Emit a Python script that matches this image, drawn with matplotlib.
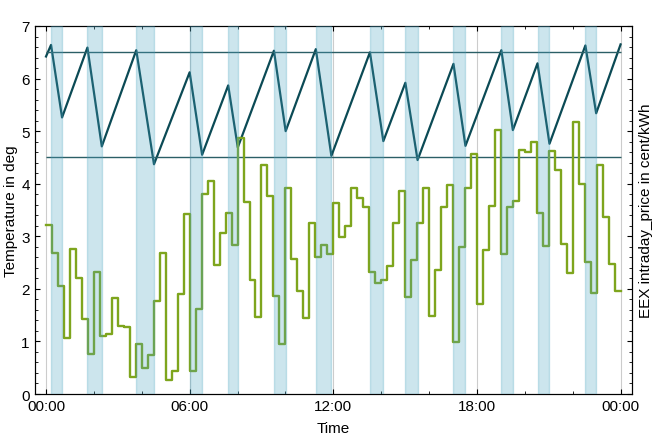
import numpy as np
import matplotlib
matplotlib.use("Agg")
import matplotlib.pyplot as plt
from matplotlib.ticker import MultipleLocator, FuncFormatter

plt.rcParams['font.family'] = ['Liberation Sans', 'DejaVu Sans']
plt.rcParams['font.size'] = 11

# temperature sawtooth corners (hour, deg)
temp_t = [0, 0.21, 0.67, 1.73, 2.33, 3.77, 4.51, 6.0, 6.52, 7.61, 8.01, 9.52, 10.01,
          11.27, 11.92, 13.53, 14.09, 15.01, 15.52, 17.02, 17.52, 19.02, 19.5,
          20.53, 21.03, 22.53, 22.98, 24.0]
temp_v = [6.42, 6.64, 5.26, 6.59, 4.71, 6.54, 4.37, 6.12, 4.55, 5.87, 4.69, 6.53, 5.0,
          6.56, 4.53, 6.50, 4.81, 5.92, 4.45, 6.28, 4.72, 6.54, 5.02,
          6.29, 4.76, 6.63, 5.34, 6.65]

temp_upper = 6.5
temp_lower = 4.5

# cooling periods (start hour, end hour)
on_start = [0.21, 1.73, 3.77, 6.0, 7.61, 9.52, 11.27, 13.53, 15.01, 17.02, 19.02, 20.53, 22.53]
on_end = [0.67, 2.33, 4.51, 6.52, 8.01, 10.01, 11.92, 14.09, 15.52, 17.52, 19.5, 21.03, 22.98]

# quarter-hourly EEX intraday price
price = [3.22, 2.69, 2.06, 1.07, 2.75, 2.21, 1.43, 0.76, 2.32, 1.10, 1.14, 1.83,
         1.30, 1.27, 0.33, 0.95, 0.49, 0.74, 1.76, 2.69, 0.27, 0.44, 1.90, 3.42,
         0.44, 1.62, 3.80, 4.06, 2.46, 3.06, 3.44, 2.83, 4.87, 3.65, 2.17, 1.46,
         4.36, 3.77, 1.87, 0.96, 3.91, 2.56, 1.95, 1.44, 3.25, 2.60, 2.83, 2.66,
         3.64, 2.99, 3.19, 3.91, 3.72, 3.55, 2.33, 2.11, 2.17, 2.43, 3.26, 3.86,
         1.84, 2.54, 3.25, 3.91, 1.49, 2.36, 3.55, 3.98, 0.98, 2.80, 3.92, 4.57,
         1.72, 2.73, 3.58, 5.03, 2.66, 3.55, 3.68, 4.65, 4.60, 4.79, 3.44, 2.82,
         4.63, 4.27, 2.85, 2.31, 5.18, 3.99, 2.52, 1.92, 4.35, 3.37, 2.47, 1.95]

teal = "#0b4a55"
green = "#7ea51d"

fig = plt.figure(figsize=(6.55, 4.39), dpi=100)
ax = fig.add_axes([0.0527, 0.1002, 0.9123, 0.8383])

ax.grid(axis='x', which='major', color='#cccccc', lw=0.8)
ax.plot(temp_t, temp_v, color=teal, lw=1.6, zorder=3)
ax.hlines([temp_upper, temp_lower], 0, 24, color='#2b5f66', lw=1.0, zorder=3)

ax.set_xlim(-0.48, 24.48)
ax.set_ylim(0, 7)
ax.xaxis.set_major_locator(MultipleLocator(6))
ax.xaxis.set_minor_locator(MultipleLocator(2))
ax.xaxis.set_major_formatter(FuncFormatter(lambda h, pos: f"{int(round(h)) % 24:02d}:00"))
ax.yaxis.set_major_locator(MultipleLocator(1))
ax.yaxis.set_minor_locator(MultipleLocator(0.2))
ax.tick_params(which='both', direction='in', top=True, right=False)
ax.tick_params(which='major', length=3.5, width=0.8)
ax.tick_params(which='minor', length=2, width=0.6)
ax.set_xlabel("Time", labelpad=6)
ax.set_ylabel("Temperature in deg", labelpad=2)

ax2 = ax.twinx()
qt = np.arange(len(price) + 1) * 0.25
ax2.plot(qt, price + [price[-1]], drawstyle='steps-post', color=green, lw=1.7, zorder=2)
for s, e in zip(on_start, on_end):
    ax2.axvspan(s, e, facecolor='#4aa3c0', edgecolor='#4aa3c0', alpha=0.28, lw=1.0, zorder=4)
ax2.set_ylim(0, 7)
ax2.yaxis.set_major_locator(MultipleLocator(1))
ax2.yaxis.set_minor_locator(MultipleLocator(0.2))
ax2.tick_params(which='both', direction='in', labelright=False)
ax2.tick_params(which='major', length=3.5, width=0.8)
ax2.tick_params(which='minor', length=2, width=0.6)
ax2.set_ylabel("EEX intraday_price in cent/kWh", labelpad=5)

fig.savefig("out.png", dpi=100)
